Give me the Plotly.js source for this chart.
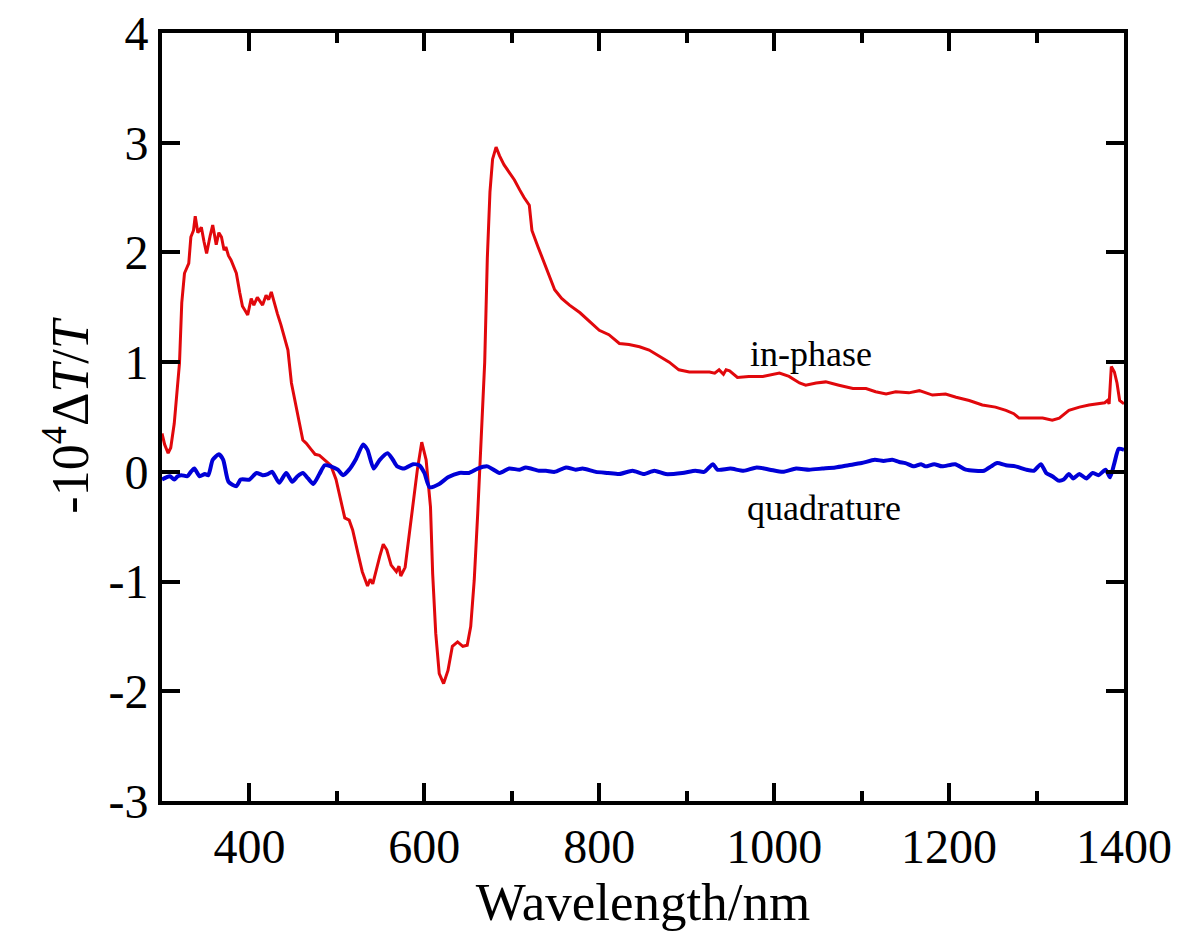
<!DOCTYPE html>
<html>
<head>
<meta charset="utf-8">
<script src="https://cdn.plot.ly/plotly-3.0.1.min.js"></script>
<style>html,body{margin:0;padding:0;background:#fff;}#chart{width:1180px;height:936px;}</style>
</head>
<body>
<div id="chart"></div>
<script>
// In-phase signal (red)
const inPhaseWavelength = [300,303,307,310,314,317,320,322.6,325.7,330.6,333,336,338,341,345,348,351,355,358,362,365,368,371,373,376,379,382,385,389,392,395,398,402,405,409,412,415,419,422,425,428,432,436,440,444,448,453,457,461,465,470,475,480,486,493,499,505,509,514,518,524,529,535,538,541,545,549,553,557,562,566,568,571,573,578,583,587,592,597,602,607,609.5,613,617,622,627,632,638,644,649,653,657,661,665,669,672,675,678,682,686,691,697,703,709,714,720,723,730,737,743,749,757,766,778,789,800,811,823,834,846,857,869,880,891,903,914,926,932,937,942,945,949,958,971,987,1006,1017,1029,1036,1048,1059,1074,1090,1105,1116,1128,1139,1154,1166,1181,1196,1208,1223,1238,1253,1265,1274,1280,1295,1307,1318,1326,1337,1349,1360,1371,1378,1381,1383,1385.5,1389,1392,1395,1400];
const inPhaseValue = [0.35,0.25,0.17,0.22,0.44,0.70,0.99,1.54,1.81,1.90,2.14,2.20,2.33,2.18,2.23,2.10,1.99,2.15,2.25,2.07,2.18,2.14,2.02,2.05,1.97,1.93,1.86,1.81,1.63,1.51,1.47,1.43,1.58,1.52,1.59,1.55,1.52,1.61,1.57,1.64,1.55,1.44,1.34,1.23,1.11,0.81,0.59,0.45,0.29,0.26,0.21,0.16,0.15,0.11,0.06,-0.07,-0.27,-0.42,-0.44,-0.53,-0.74,-0.91,-1.04,-0.98,-1.02,-0.88,-0.77,-0.66,-0.71,-0.85,-0.89,-0.91,-0.86,-0.95,-0.87,-0.56,-0.26,0.02,0.27,0.11,-0.32,-0.93,-1.47,-1.84,-1.93,-1.81,-1.59,-1.55,-1.59,-1.58,-1.41,-0.99,-0.38,0.30,1.00,1.95,2.55,2.85,2.96,2.88,2.80,2.73,2.66,2.57,2.50,2.43,2.20,2.05,1.91,1.78,1.66,1.58,1.52,1.45,1.37,1.29,1.25,1.17,1.16,1.14,1.11,1.05,1.00,0.93,0.91,0.91,0.91,0.90,0.93,0.89,0.93,0.92,0.86,0.87,0.87,0.90,0.87,0.81,0.79,0.81,0.82,0.79,0.76,0.76,0.73,0.71,0.73,0.72,0.74,0.70,0.71,0.68,0.65,0.61,0.59,0.56,0.53,0.49,0.49,0.49,0.47,0.49,0.56,0.59,0.61,0.62,0.63,0.65,0.62,0.96,0.91,0.81,0.65,0.62];

// Quadrature signal (blue)
const quadWavelength = [300,305,309,314,318,322,329,333,337,343,349,353,358,365,370,376,385,390,400,408,415,421,426,434,442,449,455,461,467,473,480,486,493,501,507,514,522,530,535,542,549,558,564,569,577,587,594,600,606,617,627,640,651,661,672,686,697,709,716,731,739,749,762,773,781,796,810,823,838,851,863,876,895,910,920,930,935,950,965,980,995,1010,1025,1040,1055,1070,1085,1100,1115,1125,1135,1143,1150,1160,1168,1173,1183,1192,1207,1219,1240,1248,1255,1265,1276,1288,1297,1305,1311,1318,1325,1331,1337,1342,1349,1357,1364,1371,1379,1384,1389,1394,1400];
const quadValue = [-0.07,-0.05,-0.04,-0.07,-0.04,-0.03,-0.04,0.00,0.03,-0.04,-0.02,-0.03,0.11,0.16,0.11,-0.09,-0.13,-0.07,-0.07,-0.01,-0.03,-0.02,0.00,-0.10,-0.01,-0.09,-0.04,-0.01,-0.06,-0.11,-0.02,0.06,0.05,0.02,-0.03,0.02,0.12,0.25,0.20,0.03,0.11,0.17,0.11,0.05,0.03,0.07,0.06,-0.01,-0.14,-0.11,-0.05,-0.01,-0.01,0.03,0.05,-0.01,0.03,0.02,0.04,0.01,0.01,0.00,0.04,0.02,0.03,0.00,-0.01,-0.02,0.01,-0.02,0.01,-0.02,-0.01,0.01,0.00,0.07,0.02,0.03,0.01,0.04,0.02,0.00,0.03,0.02,0.03,0.04,0.06,0.08,0.11,0.10,0.11,0.09,0.08,0.05,0.07,0.05,0.07,0.05,0.07,0.02,0.01,0.05,0.08,0.06,0.05,0.02,0.01,0.07,-0.01,-0.04,-0.08,-0.07,-0.02,-0.06,-0.02,-0.06,-0.01,-0.03,0.02,-0.05,0.08,0.21,0.20];

const xTickValues = [400,600,800,1000,1200,1400];
const xTickLabels = ['400','600','800','1000','1200','1400'];
const yTickValues = [-3,-2,-1,0,1,2,3,4];
const yTickLabels = ['-3','-2','-1','0','1','2','3','4'];

const serif = 'Liberation Serif, Times New Roman, serif';

const traces = [
  {x: inPhaseWavelength, y: inPhaseValue, type: 'scatter', mode: 'lines',
   line: {color: 'rgb(225,8,12)', width: 3}, hoverinfo: 'skip', name: 'in-phase'},
  {x: quadWavelength, y: quadValue, type: 'scatter', mode: 'lines',
   line: {color: 'rgb(0,0,215)', width: 4, shape: 'spline', smoothing: 0.6}, hoverinfo: 'skip', name: 'quadrature'}
];

const axisCommon = {
  showline: true, linecolor: '#000', linewidth: 4, mirror: 'allticks',
  ticks: 'inside', ticklen: 18, tickwidth: 4, tickcolor: '#000',
  showgrid: false, zeroline: false,
  tickfont: {family: serif, size: 48, color: '#000'}
};

const layout = {
  width: 1180, height: 936,
  margin: {l: 162, r: 56, t: 33, b: 135},
  paper_bgcolor: '#fff', plot_bgcolor: '#fff',
  showlegend: false,
  xaxis: Object.assign({}, axisCommon, {
    range: [300, 1400], tickvals: xTickValues, ticktext: xTickLabels, tickmode: 'array',
    minor: {dtick: 100, ticks: 'inside', ticklen: 10, tickwidth: 4, tickcolor: '#000'},
    title: {text: 'Wavelength/nm', font: {family: serif, size: 53, color: '#000'}, standoff: 10}
  }),
  yaxis: Object.assign({}, axisCommon, {
    range: [-3, 4], tickvals: yTickValues, ticktext: yTickLabels, tickmode: 'array',
    title: {text: '-10<sup>4</sup>Δ<i>T</i>/<i>T</i>', font: {family: serif, size: 52, color: '#000'}, standoff: 4}
  }),
  annotations: [
    {x: 1042, y: 1.07, xref: 'x', yref: 'y', text: 'in-phase', showarrow: false,
     font: {family: serif, size: 36, color: '#000'}},
    {x: 1057, y: -0.33, xref: 'x', yref: 'y', text: 'quadrature', showarrow: false,
     font: {family: serif, size: 36, color: '#000'}}
  ]
};

Plotly.newPlot('chart', traces, layout, {displayModeBar: false, staticPlot: true});
</script>
</body>
</html>
